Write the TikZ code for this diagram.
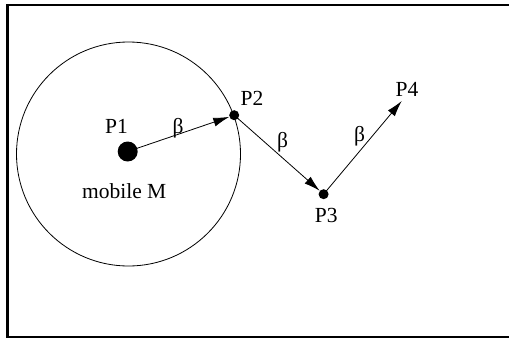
\documentclass[tikz,border=0pt]{standalone}
\usepackage{fontspec}
\setmainfont{Liberation Serif}
\usetikzlibrary{arrows.meta}
\begin{document}
\begin{tikzpicture}[x=1pt,y=-1pt,
  lbl/.style={inner sep=0pt,font=\fontsize{21.5}{25}\selectfont},
  dot/.style={circle,fill=black,inner sep=0pt},
  arr/.style={line width=0.8pt,-{Latex[length=16pt,width=9pt]}}]
\useasboundingbox (0,0) rectangle (509,341);
\draw[line width=2.6pt] (520,5) -- (7.5,5) -- (7.5,337) -- (520,337);
\node[circle,draw,line width=0.8pt,minimum size=224pt,inner sep=0pt] (C) at (128.5,154) {};
\node[dot,minimum size=20pt] (p1) at (127.7,151.5) {};
\node[dot,minimum size=10pt] (p2) at (234.2,115.2) {};
\node[dot,minimum size=10pt] (p3) at (323.6,194.2) {};
\coordinate (p4) at (401.7,101);
\draw[arr] (p1.center) -- (p2);
\draw[arr] (p2.center) -- (p3);
\draw[arr] (p3.center) -- (p4);
\node[lbl] (l1) at (116.5,126.5) {P1};
\node[lbl] (l2) at (252,98) {P2};
\node[lbl] (l3) at (326.3,215) {P3};
\node[lbl] (l4) at (407,89.7) {P4};
\node[lbl] (m) at (124.2,191) {mobile M};
\node[lbl] (b1) at (178,128) {β};
\node[lbl] (b2) at (282.5,142) {β};
\node[lbl] (b3) at (359.7,136.7) {β};
\end{tikzpicture}
\end{document}
